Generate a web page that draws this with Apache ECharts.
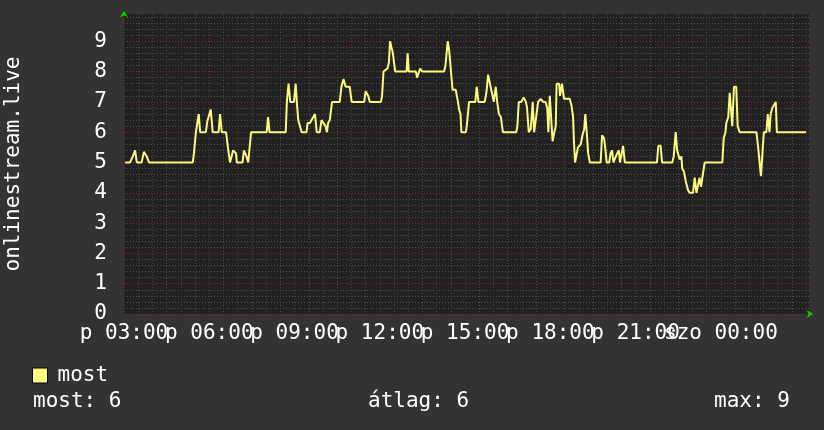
<!DOCTYPE html>
<html>
<head>
<meta charset="utf-8">
<script src="https://cdn.jsdelivr.net/npm/echarts@6/dist/echarts.min.js"></script>
<style>
  html, body { margin: 0; padding: 0; background: #333333; }
  #chart { width: 824px; height: 430px; }
</style>
</head>
<body>
<div id="chart"></div>
<script>
// hours since p 03:00
const hours = [
  0.04, 0.21, 0.31, 0.39, 0.45, 0.62, 0.70, 0.80, 0.88, 2.42,
  2.46, 2.53, 2.63, 2.68, 2.88, 2.93, 3.05, 3.12, 3.33, 3.38,
  3.44, 3.59, 3.67, 3.73, 3.84, 3.94, 3.97, 4.17, 4.22, 4.31,
  4.37, 4.41, 4.47, 5.02, 5.07, 5.12, 5.69, 5.73, 5.79, 5.85,
  5.98, 6.04, 6.08, 6.13, 6.18, 6.25, 6.42, 6.46, 6.54, 6.66,
  6.72, 6.78, 6.89, 6.95, 7.02, 7.09, 7.14, 7.18, 7.24, 7.32,
  7.59, 7.65, 7.72, 7.80, 7.94, 8.01, 8.45, 8.50, 8.59, 8.65,
  9.04, 9.08, 9.13, 9.27, 9.32, 9.36, 9.46, 9.54, 9.94, 9.98,
  10.02, 10.27, 10.31, 10.36, 10.42, 10.49, 11.26, 11.31, 11.39, 11.44,
  11.50, 11.56, 11.67, 11.75, 11.79, 11.84, 11.87, 12.03, 12.07, 12.14,
  12.36, 12.41, 12.47, 12.69, 12.75, 12.81, 12.87, 12.92, 13.01, 13.08,
  13.13, 13.19, 13.26, 13.33, 13.80, 13.84, 13.89, 13.98, 14.06, 14.14,
  14.18, 14.24, 14.31, 14.38, 14.43, 14.50, 14.57, 14.66, 14.75, 14.83,
  14.89, 14.93, 14.98, 15.03, 15.08, 15.14, 15.19, 15.22, 15.31, 15.34,
  15.41, 15.48, 15.68, 15.74, 15.80, 15.83, 15.87, 15.92, 15.97, 16.07,
  16.13, 16.19, 16.23, 16.28, 16.33, 16.39, 16.77, 16.82, 16.89, 16.94,
  16.98, 17.07, 17.12, 17.17, 17.22, 17.28, 17.35, 17.41, 17.45, 17.50,
  17.56, 17.62, 18.75, 18.80, 18.88, 18.93, 19.29, 19.34, 19.41, 19.46,
  19.49, 19.55, 19.61, 19.64, 19.70, 19.76, 19.84, 19.90, 20.02, 20.08,
  20.14, 20.20, 20.25, 20.30, 20.37, 20.43, 21.05, 21.10, 21.16, 21.19,
  21.26, 21.31, 21.36, 21.40, 21.46, 21.54, 21.59, 21.66, 22.25, 22.30,
  22.36, 22.41, 22.48, 22.51, 22.60, 22.65, 22.71, 22.75, 22.81, 22.87,
  22.93, 22.97, 24.00
];
const online = [
  5, 5, 5.2, 5.4, 5, 5, 5.35, 5.2, 5, 5,
  5.3, 6, 6.6, 6, 6, 6.35, 6.75, 6, 6, 6.6,
  6, 6, 5.4, 5, 5.4, 5.3, 5, 5, 5.4, 5.2,
  5, 5, 6, 6, 6.5, 6, 6, 7, 7.6, 7,
  7, 7.6, 7, 6.4, 6.4, 6, 6, 6.3, 6.3, 6.5,
  6.6, 6, 6, 6.4, 6.3, 6.2, 6, 6.3, 6.4, 7,
  7, 7.5, 7.75, 7.5, 7.5, 7, 7, 7.35, 7.2, 7,
  7, 7.2, 8, 8.1, 8.3, 9, 8.6, 8, 8, 8.6,
  8, 8, 7.8, 7.8, 8.1, 8, 8, 8.2, 9, 8.7,
  8.7, 7.4, 7.4, 7, 6.75, 6.6, 6, 6, 6.3, 7,
  7, 7.5, 7, 7, 7.3, 7.9, 7.9, 7.4, 7, 7.5,
  7, 6.6, 6.5, 6, 6, 6.2, 7, 7, 7.15, 7,
  6.8, 6, 6.1, 7, 6, 6, 7, 7.1, 7, 7,
  6.8, 6, 7.2, 7.2, 5.7, 6, 6.2, 7.6, 7.6, 7.2,
  7.6, 7.1, 7.1, 6.9, 6.5, 5.7, 5, 5, 5.5, 5.6,
  5.9, 6.1, 6.6, 6, 5.3, 5, 5, 5.9, 5.8, 5.4,
  5, 5, 5.3, 5.4, 5, 5, 5.3, 5.4, 5, 5,
  5.55, 5, 5, 5.55, 5.55, 5, 5, 5.2, 6, 5.4,
  5.3, 5.1, 5.2, 4.8, 4.7, 4.4, 4.1, 4, 4, 4.5,
  4, 4, 4.5, 4.2, 4.2, 5, 5, 5.8, 6, 6.3,
  6.5, 7.3, 7.3, 6.2, 7.5, 7.5, 6.2, 6, 6, 5.6,
  5.6, 4.55, 4.55, 6, 6, 6.6, 6, 6.6, 6.8, 6.85,
  7, 6, 6
];
const tickLabels = ['p 03:00', 'p 06:00', 'p 09:00', 'p 12:00', 'p 15:00', 'p 18:00', 'p 21:00', 'szo 00:00'];

const font = 'DejaVu Sans Mono';
const lineColor = '#fafa80';
const majorGrid = '#6a3030';
const minorGrid = '#4e4e4e';

// stats for the bottom row
const last = online[online.length - 1];
const max = Math.max.apply(null, online);
let area = 0;
for (let i = 1; i < hours.length; i++) {
  area += (online[i] + online[i - 1]) / 2 * (hours[i] - hours[i - 1]);
}
const avg = area / (hours[hours.length - 1] - hours[0]);

const isWhole = (v, step) => Math.abs(v / step - Math.round(v / step)) < 1e-6;

const chart = echarts.init(document.getElementById('chart'));
chart.setOption({
  backgroundColor: '#333333',
  animation: false,
  textStyle: { fontFamily: font },
  title: [
    { text: 'most: ' + last, left: 33, top: 391 },
    { text: 'átlag: ' + Math.round(avg), left: 368, top: 391 },
    { text: 'max: ' + max, left: 714, top: 391 }
  ].map(t => Object.assign(t, {
    padding: 0,
    textStyle: { color: '#ffffff', fontFamily: font, fontSize: 21, fontWeight: 'normal' }
  })),
  legend: {
    left: 32,
    top: 365,
    padding: 0,
    itemWidth: 15,
    itemHeight: 15,
    data: [{ name: 'most', icon: 'rect' }],
    itemStyle: { borderColor: '#000000', borderWidth: 1 },
    textStyle: { color: '#ffffff', fontFamily: font, fontSize: 21, padding: [0, 0, 0, 5] }
  },
  grid: {
    left: 124,
    right: 15,
    top: 14,
    bottom: 116,
    outerBoundsMode: 'none',
    containLabel: false,
    show: true,
    backgroundColor: '#212121',
    borderWidth: 0
  },
  xAxis: {
    type: 'value',
    min: 0,
    max: 24.1,
    interval: 0.5,
    axisLine: {
      show: true,
      symbol: ['none', 'arrow'],
      symbolSize: [6, 6],
      symbolOffset: [0, 4],
      lineStyle: { color: '#00d000', width: 0 }
    },
    axisTick: { show: false },
    axisLabel: {
      color: '#ffffff',
      fontFamily: font,
      fontSize: 21,
      margin: 9,
      showMaxLabel: false,
      formatter: v => isWhole(v, 3) ? (tickLabels[Math.round(v / 3)] || '') : ''
    },
    splitLine: {
      show: true,
      showMaxLine: false,
      lineStyle: { color: [majorGrid, minorGrid], type: [1, 2], width: 1 }
    }
  },
  yAxis: {
    type: 'value',
    min: 0,
    max: 9.9,
    interval: 0.2,
    name: 'onlinestream.live',
    nameLocation: 'middle',
    nameRotate: 90,
    nameGap: 100,
    nameTextStyle: { color: '#ffffff', fontFamily: font, fontSize: 21 },
    axisLine: {
      show: true,
      symbol: ['none', 'arrow'],
      symbolSize: [6, 6],
      symbolOffset: [0, 3],
      lineStyle: { color: '#00d000', width: 0 }
    },
    axisTick: { show: false },
    axisLabel: {
      color: '#ffffff',
      fontFamily: font,
      fontSize: 21,
      margin: 17,
      showMaxLabel: false,
      formatter: v => isWhole(v, 1) ? String(Math.round(v)) : ''
    },
    splitLine: {
      show: true,
      showMaxLine: false,
      lineStyle: { color: [majorGrid, minorGrid, minorGrid, minorGrid, minorGrid], type: [1, 2], width: 1 }
    }
  },
  series: [
    {
      name: 'most',
      type: 'line',
      showSymbol: false,
      data: hours.map((h, i) => [h, online[i]]),
      itemStyle: { color: lineColor },
      lineStyle: { color: lineColor, width: 2 }
    }
  ]
});
</script>
</body>
</html>
